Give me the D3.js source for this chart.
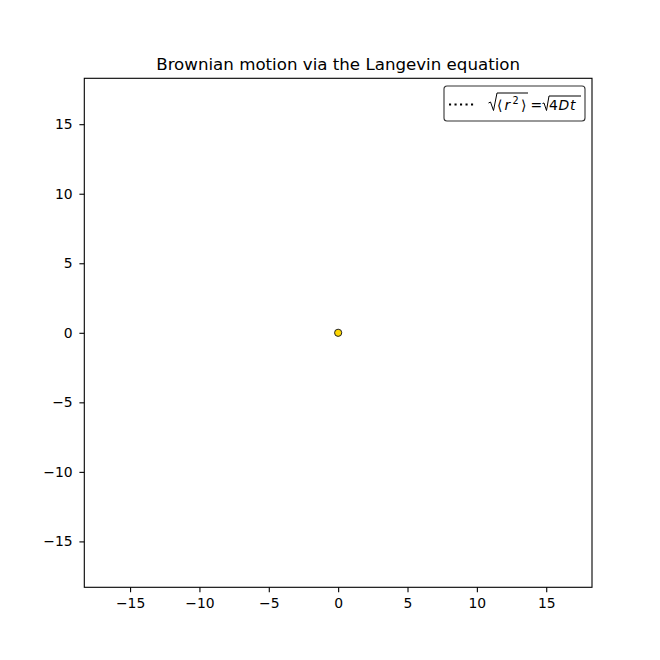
<!DOCTYPE html>
<html>
<head>
<meta charset="utf-8">
<script src="https://cdn.jsdelivr.net/npm/d3@7"></script>
<style>
  body { margin: 0; background: #fff; }
  text { font-family: "DejaVu Sans", sans-serif; }
</style>
</head>
<body>
<div id="chart"></div>
<script>
// data
const particleX = [0];
const particleY = [0];
const xDomain = [-18.3, 18.3];
const yDomain = [-18.3, 18.3];
const xTicks = [-15, -10, -5, 0, 5, 10, 15];
const yTicks = [-15, -10, -5, 0, 5, 10, 15];
const title = 'Brownian motion via the Langevin equation';

const width = 660, height = 660;
const margin = {left: 84.3, right: 68, top: 78.3, bottom: 72.7};
const fmt = d => d < 0 ? '\u2212' + Math.abs(d) : d;

const svg = d3.select('#chart').append('svg')
    .attr('width', width)
    .attr('height', height);

const xScale = d3.scaleLinear().domain(xDomain).range([margin.left, width - margin.right]);
const yScale = d3.scaleLinear().domain(yDomain).range([height - margin.bottom, margin.top]);

// axes
const axisX = d3.axisBottom(xScale).tickValues(xTicks).tickSize(4.9).tickPadding(5.8).tickFormat(fmt);
const axisY = d3.axisLeft(yScale).tickValues(yTicks).tickSize(4.9).tickPadding(6.8).tickFormat(fmt);

svg.append('g')
    .attr('transform', `translate(0, ${height - margin.bottom})`)
    .call(axisX)
    .call(g => g.select('.domain').remove());

svg.append('g')
    .attr('transform', `translate(${margin.left}, 0)`)
    .call(axisY)
    .call(g => g.select('.domain').remove());

svg.selectAll('.tick text')
    .attr('font-size', 13.9)
    .attr('fill', '#000')
    .attr('font-family', '"DejaVu Sans", sans-serif');
svg.selectAll('.tick line').attr('stroke', '#000').attr('stroke-width', 1.1);

// frame
svg.append('rect')
    .attr('x', margin.left)
    .attr('y', margin.top)
    .attr('width', width - margin.left - margin.right)
    .attr('height', height - margin.top - margin.bottom)
    .attr('fill', 'none')
    .attr('stroke', '#000')
    .attr('stroke-width', 1.1);

// title
svg.append('text')
    .attr('x', (margin.left + width - margin.right) / 2)
    .attr('y', margin.top - 8.3)
    .attr('text-anchor', 'middle')
    .attr('font-size', 16.67)
    .text(title);

// particle
svg.selectAll('circle.p')
    .data(particleX)
    .enter()
    .append('circle')
    .attr('class', 'p')
    .attr('cx', (d, i) => xScale(d))
    .attr('cy', (d, i) => yScale(particleY[i]))
    .attr('r', 3.6)
    .attr('fill', '#ffd700')
    .attr('stroke', '#222')
    .attr('stroke-width', 1);

// legend
const lg = svg.append('g').attr('transform', 'translate(444, 86)');
lg.append('rect')
    .attr('width', 141).attr('height', 35)
    .attr('rx', 3).attr('ry', 3)
    .attr('fill', '#fff')
    .attr('stroke', '#333')
    .attr('stroke-width', 1.1);
lg.append('line')
    .attr('x1', 5).attr('x2', 30).attr('y1', 18.5).attr('y2', 18.5)
    .attr('stroke', '#000').attr('stroke-width', 2.1)
    .attr('stroke-dasharray', '2.1,3.4');

// formula: sqrt(<r^2>) = sqrt(4Dt)
const fy = 24;
const f = lg.append('g').attr('font-size', 13.9);
f.append('path')
    .attr('d', 'M44.5,17 L46.5,16 L49.5,24.5 L53,7 L84,7')
    .attr('fill', 'none').attr('stroke', '#000').attr('stroke-width', 1);
f.append('text').attr('x', 53).attr('y', fy).text('\u27E8');
f.append('text').attr('x', 60.5).attr('y', fy).attr('font-style', 'italic').text('r');
f.append('text').attr('x', 68.5).attr('y', fy - 6).attr('font-size', 9.7).text('2');
f.append('text').attr('x', 77).attr('y', fy).text('\u27E9');
f.append('text').attr('x', 86.5).attr('y', fy).text('=');
f.append('path')
    .attr('d', 'M98.5,17.5 L100,17 L102.5,24.5 L105,10 L137,10')
    .attr('fill', 'none').attr('stroke', '#000').attr('stroke-width', 1);
f.append('text').attr('x', 105).attr('y', fy).text('4');
f.append('text').attr('x', 114.5).attr('y', fy).attr('font-style', 'italic').text('D');
f.append('text').attr('x', 126).attr('y', fy).attr('font-style', 'italic').text('t');
</script>
</body>
</html>
